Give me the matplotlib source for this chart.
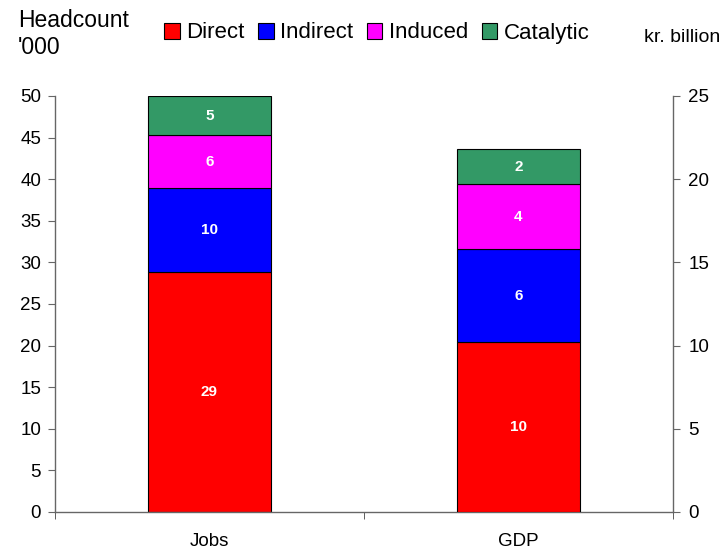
import matplotlib
matplotlib.use("Agg")
import matplotlib.pyplot as plt
from matplotlib.patches import Patch
import numpy as np

plt.rcParams['font.family'] = ['Liberation Sans', 'DejaVu Sans']

categories = ["Jobs", "GDP"]
series = ["Direct", "Indirect", "Induced", "Catalytic"]
jobs_values = [28.9, 10.0, 6.4, 4.7]      # headcount '000 (left axis)
gdp_values = [10.2, 5.6, 3.9, 2.1]        # kr. billion (right axis)
jobs_labels = ["29", "10", "6", "5"]
gdp_labels = ["10", "6", "4", "2"]
colors = ["#FF0000", "#0000FF", "#FF00FF", "#339966"]

fig = plt.figure(figsize=(7.21, 5.51), dpi=100)
ax = fig.add_axes([55/721, 1-512/551, 618/721, 416/551])
ax2 = ax.twinx()

bw = 0.4
def stack(axis, x, vals, labels):
    bottom = 0
    for v, c, lab in zip(vals, colors, labels):
        axis.bar(x, v, bw, bottom=bottom, color=c, edgecolor="black", linewidth=0.8)
        axis.text(x, bottom + v/2, lab, ha="center", va="center", color="white",
                  fontsize=11, fontweight="bold")
        bottom += v

stack(ax, 0, jobs_values, jobs_labels)
stack(ax2, 1, gdp_values, gdp_labels)

ax.set_xlim(-0.5, 1.5)
ax.set_ylim(0, 50)
ax2.set_ylim(0, 25)
ax.set_yticks(np.arange(0, 51, 5))
ax2.set_yticks(np.arange(0, 26, 5))

ax.set_xticks([0, 1])
ax.set_xticklabels(categories, fontsize=13.5)
ax.set_xticks([-0.5, 0.5, 1.5], minor=True)
ax.tick_params(axis="x", which="major", length=0, pad=15)
ax.tick_params(axis="x", which="minor", length=5, direction="out", color="#444444")

for a in (ax, ax2):
    a.spines["top"].set_visible(False)
    for s in ("left", "right", "bottom"):
        a.spines[s].set_color("#666666")
        a.spines[s].set_linewidth(1)
ax.spines["right"].set_visible(False)
ax2.spines["left"].set_visible(False)
ax2.spines["bottom"].set_visible(False)
ax.tick_params(axis="y", labelsize=13.5, length=5, color="#666666", pad=5)
ax2.tick_params(axis="y", labelsize=13.5, length=5, color="#666666", pad=6)

fig.text(18/721, 1-9/551, "Headcount\n'000", fontsize=16.5, ha="left", va="top",
         linespacing=1.2)
fig.text(644/721, 1-38/551, "kr. billion", fontsize=14, ha="left", va="center")

handles = [Patch(facecolor=c, edgecolor="black", linewidth=0.8) for c in colors]
fig.legend(handles, series, loc="center", bbox_to_anchor=(377/721, 1-33/551),
           ncol=4, frameon=False, fontsize=16, handlelength=0.7, handleheight=0.7,
           handletextpad=0.3, columnspacing=0.6, borderaxespad=0)

fig.savefig("out.png", dpi=100)
